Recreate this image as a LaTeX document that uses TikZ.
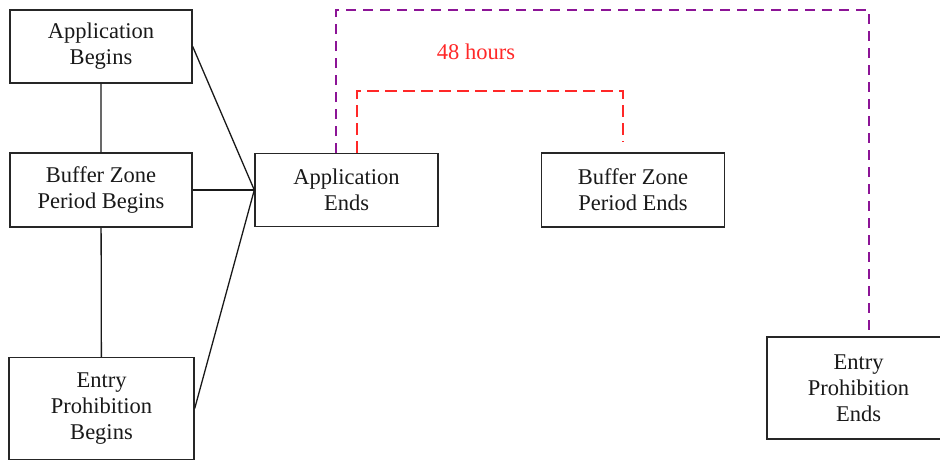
\documentclass[tikz,border=0pt]{standalone}
\usepackage{fontspec}
\setmainfont{Liberation Serif}
\definecolor{ppl}{RGB}{140,20,150}
\definecolor{rd}{RGB}{255,40,40}
\begin{document}
\begin{tikzpicture}[x=1pt,y=-1pt,
  box/.style={draw=black!85, line width=1.4pt, fill=white, align=center, inner sep=0pt,
    font=\fontsize{22.5}{26}\selectfont, text=black!90},
  conn/.style={line width=1.3pt, black!90},
  pdash/.style={ppl, line width=1.6pt, dash pattern=on 10pt off 7pt},
  rdash/.style={rd, line width=1.6pt, dash pattern=on 12pt off 6pt}]
\useasboundingbox (0,0) rectangle (940,464);
\node[box, minimum width=182pt, minimum height=73pt] (ab) at (101,46.5) {Application\\Begins};
\node[box, minimum width=182pt, minimum height=74pt] (bzb) at (101,190) {Buffer Zone\\Period Begins};
\node[box, minimum width=185pt, minimum height=102pt] (epb) at (101.5,408.5) {Entry\\Prohibition\\Begins};
\node[box, minimum width=183pt, minimum height=73pt] (ae) at (346.5,190) {Application\\Ends};
\node[box, minimum width=183pt, minimum height=74pt] (bze) at (633,190) {Buffer Zone\\Period Ends};
\node[box, minimum width=183pt, minimum height=102pt] (epe) at (858.5,388) {Entry\\Prohibition\\Ends};
\node[text=rd, font=\fontsize{22.5}{26}\selectfont] (lbl) at (476,52) {48 hours};
\draw[conn] (ab) -- (bzb) -- (epb);
\draw[conn] (ab.east) -- (ae.west);
\draw[conn] (bzb.east) -- (ae.west);
\draw[conn] (epb.east) -- (ae.west);
\coordinate (pa) at (336,153);
\coordinate (ra) at (357,153);
\coordinate (rend) at (623,142);
\draw[pdash] (pa) -- (336,10) -- (869,10) -- (869,337);
\draw[rdash] (ra) -- (357,91) -- (623,91) -- (rend);
\end{tikzpicture}
\end{document}
